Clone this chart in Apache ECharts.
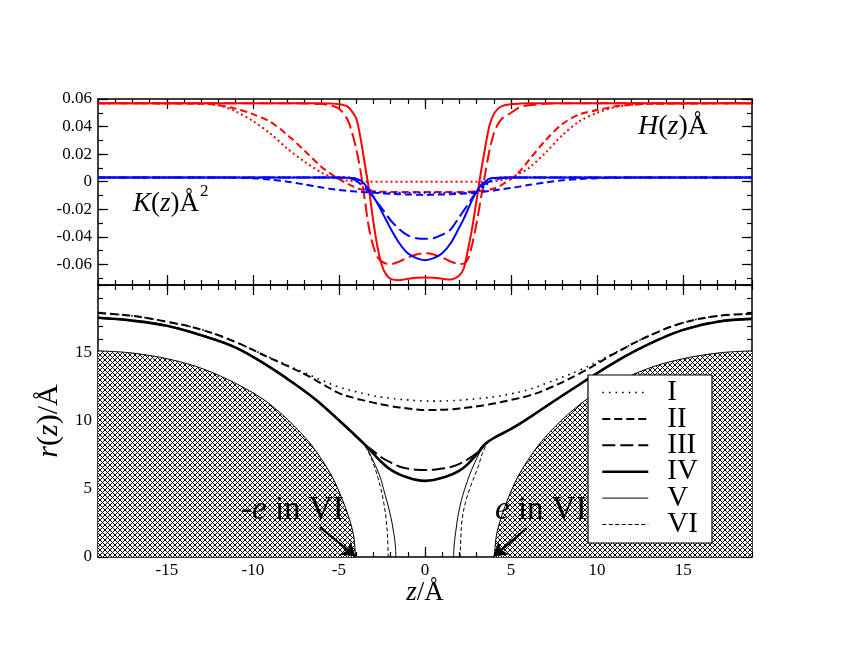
<!DOCTYPE html>
<html>
<head>
<meta charset="utf-8">
<script src="https://cdn.jsdelivr.net/npm/echarts@6/dist/echarts.min.js"></script>
<style>
html, body { margin: 0; padding: 0; background: #fff; }
#chart { width: 846px; height: 654px; }
</style>
</head>
<body>
<div id="chart"></div>
<script>
// top panel: mean curvature H (red) and gaussian curvature K (blue), shared z grid
var zH = [-19, -13, -12, -11, -10, -9, -8, -7, -6, -5.5, -5, -4.5, -4.25, -4, -3.75, -3.5, -3.25, -3, -2.75, -2.5, -2.25, -2, -1.5, -1, -0.5,
  0,
  0.5, 1, 1.5, 2, 2.25, 2.5, 2.75, 3, 3.25, 3.5, 3.75, 4, 4.25, 4.5, 5, 5.5, 6, 7, 8, 9, 10, 11, 12, 13, 19];

var hI = [0.057, 0.0568, 0.0555, 0.051, 0.044, 0.035, 0.024, 0.0145, 0.0065, 0.0038, 0.002, 0.0008, 0.0004, 0.0002, 0, 0, 0, 0, 0, 0, 0, 0, 0, 0, 0,
  0,
  0, 0, 0, 0, 0, 0, 0, 0, 0, 0, 0, 0.0003, 0.0007, 0.0014, 0.003, 0.006, 0.0095, 0.021, 0.034, 0.044, 0.050, 0.054, 0.0558, 0.0566, 0.057];
var hII = [0.057, 0.0565, 0.0555, 0.053, 0.049, 0.0435, 0.034, 0.0225, 0.0105, 0.006, 0.0018, -0.0015, -0.003, -0.0045, -0.0055, -0.006, -0.0065, -0.007, -0.0072, -0.0073, -0.0074, -0.0075, -0.0075, -0.0075, -0.0075,
  -0.0075,
  -0.0075, -0.0075, -0.0075, -0.0075, -0.0074, -0.0073, -0.0072, -0.0071, -0.0068, -0.0064, -0.0058, -0.005, -0.0038, -0.002, 0.002, 0.0075, 0.015, 0.030, 0.042, 0.049, 0.052, 0.0545, 0.0558, 0.0565, 0.057];
var hIII = [0.057, 0.057, 0.057, 0.057, 0.057, 0.057, 0.057, 0.0568, 0.0563, 0.0553, 0.053, 0.045, 0.036, 0.024, 0.008, -0.013, -0.034, -0.047, -0.055, -0.058, -0.0595, -0.0598, -0.058, -0.055, -0.0528,
  -0.052,
  -0.0528, -0.055, -0.058, -0.0598, -0.0595, -0.056, -0.045, -0.030, -0.012, 0.006, 0.023, 0.035, 0.042, 0.046, 0.050, 0.054, 0.0555, 0.0565, 0.057, 0.057, 0.057, 0.057, 0.057, 0.057, 0.057];
var hIV = [0.057, 0.057, 0.057, 0.057, 0.057, 0.057, 0.057, 0.057, 0.057, 0.0568, 0.0562, 0.0545, 0.051, 0.046, 0.032, 0.013, -0.006, -0.029, -0.048, -0.061, -0.0675, -0.0705, -0.0715, -0.0705, -0.0697,
  -0.0695,
  -0.0697, -0.0705, -0.071, -0.068, -0.063, -0.049, -0.033, -0.013, 0.007, 0.025, 0.041, 0.049, 0.053, 0.055, 0.0562, 0.0567, 0.057, 0.057, 0.057, 0.057, 0.057, 0.057, 0.057, 0.057, 0.057];

var kI = [0.003, 0.003, 0.003, 0.003, 0.003, 0.003, 0.003, 0.003, 0.003, 0.003, 0.003, 0.003, 0.0028, 0.002, 0, -0.003, -0.0055, -0.007, -0.0076, -0.0079, -0.008, -0.008, -0.008, -0.008, -0.008,
  -0.008,
  -0.008, -0.008, -0.008, -0.008, -0.008, -0.0079, -0.0076, -0.007, -0.0055, -0.003, 0, 0.002, 0.0028, 0.003, 0.003, 0.003, 0.003, 0.003, 0.003, 0.003, 0.003, 0.003, 0.003, 0.003, 0.003];
var kII = [0.003, 0.003, 0.003, 0.0028, 0.0025, 0.0015, 0, -0.002, -0.0042, -0.0052, -0.006, -0.0066, -0.0069, -0.0072, -0.0074, -0.0076, -0.0078, -0.008, -0.0082, -0.0084, -0.0086, -0.0088, -0.0091, -0.0093, -0.0095,
  -0.0096,
  -0.0095, -0.0093, -0.0091, -0.0088, -0.0086, -0.0084, -0.0082, -0.008, -0.0076, -0.0072, -0.0068, -0.0064, -0.0059, -0.0054, -0.0045, -0.0036, -0.0024, -0.0006, 0.001, 0.002, 0.0025, 0.0028, 0.003, 0.003, 0.003];
var kIII = [0.003, 0.003, 0.003, 0.003, 0.003, 0.003, 0.003, 0.003, 0.003, 0.003, 0.003, 0.0028, 0.002, 0.0008, -0.0018, -0.0045, -0.0078, -0.011, -0.0155, -0.0195, -0.0237, -0.028, -0.0345, -0.039, -0.041,
  -0.0415,
  -0.041, -0.0385, -0.0345, -0.0255, -0.021, -0.0165, -0.0115, -0.0072, -0.004, -0.0015, 0, 0.0012, 0.002, 0.0026, 0.003, 0.003, 0.003, 0.003, 0.003, 0.003, 0.003, 0.003, 0.003, 0.003, 0.003];
var kIV = [0.003, 0.003, 0.003, 0.003, 0.003, 0.003, 0.003, 0.003, 0.003, 0.003, 0.003, 0.0029, 0.0027, 0.0022, 0.001, -0.002, -0.0063, -0.011, -0.016, -0.022, -0.028, -0.034, -0.0445, -0.052, -0.0555,
  -0.057,
  -0.0555, -0.052, -0.0445, -0.033, -0.027, -0.020, -0.013, -0.0072, -0.0025, 0, 0.0022, 0.0027, 0.0029, 0.003, 0.003, 0.003, 0.003, 0.003, 0.003, 0.003, 0.003, 0.003, 0.003, 0.003, 0.003];

// bottom panel: profile r(z)
var zR = [-19, -17, -15, -13, -11, -9, -8, -7, -6, -5, -4, -3.5, -3, -2.5, -2, -1.5, -1, -0.5,
  0,
  0.5, 1, 1.5, 2, 2.5, 3, 3.5, 4, 5, 6, 7, 9, 11, 13, 15, 17, 19];
var rI = [17.94, 17.73, 17.3, 16.72, 15.8, 14.65, 14.1, 13.55, 13.0, 12.5, 12.15, 12.0, 11.85, 11.75, 11.67, 11.6, 11.55, 11.5,
  11.47,
  11.46, 11.47, 11.5, 11.53, 11.58, 11.63, 11.7, 11.78, 12.0, 12.3, 12.75, 13.75, 15.0, 16.25, 17.22, 17.72, 17.88];
var rII = [17.94, 17.73, 17.3, 16.72, 15.8, 14.62, 14.05, 13.45, 12.75, 12.05, 11.65, 11.5, 11.35, 11.22, 11.1, 11.0, 10.92, 10.85,
  10.8,
  10.81, 10.83, 10.86, 10.92, 11.0, 11.08, 11.17, 11.28, 11.55, 11.85, 12.3, 13.5, 14.95, 16.25, 17.22, 17.72, 17.88];
var rIII = [17.59, 17.38, 17.0, 16.3, 15.4, 13.95, 13.1, 12.2, 11.2, 10.05, 8.88, 8.27, 7.8, 7.3, 6.95, 6.65, 6.5, 6.42,
  6.4,
  6.42, 6.5, 6.62, 6.85, 7.2, 7.65, 8.35, 8.75, 9.42, 10.2, 11.05, 12.7, 14.3, 15.65, 16.7, 17.3, 17.51];
var rIV = [17.59, 17.38, 17.0, 16.3, 15.4, 13.95, 13.1, 12.2, 11.2, 10.05, 8.88, 8.27, 7.6, 6.95, 6.42, 6.08, 5.85, 5.67,
  5.6,
  5.66, 5.82, 6.05, 6.35, 6.85, 7.55, 8.3, 8.75, 9.42, 10.2, 11.05, 12.7, 14.3, 15.65, 16.7, 17.3, 17.51];

var zVLeft  = [-19, -17, -15, -13, -11, -9, -8, -7, -6, -5, -4, -3.5, -3, -2.6, -2.4, -2.05, -1.82, -1.72, -1.69];
var rVLeft  = [17.59, 17.38, 17.0, 16.3, 15.4, 13.95, 13.1, 12.2, 11.2, 10.05, 8.88, 8.22, 7.05, 5.85, 4.95, 3.3, 1.8, 0.8, 0];
var zVRight = [1.66, 1.69, 1.78, 1.96, 2.3, 2.9, 3.5, 4, 5, 6, 7, 9, 11, 13, 15, 17, 19];
var rVRight = [0, 0.8, 1.8, 3.3, 4.97, 6.96, 8.3, 8.75, 9.42, 10.2, 11.05, 12.7, 14.3, 15.65, 16.7, 17.3, 17.51];

var zVILeft  = [-19, -17, -15, -13, -11, -9, -8, -7, -6, -5, -4, -3.5, -3, -2.6, -2.4, -2.25, -2.17, -2.14];
var rVILeft  = [17.59, 17.38, 17.0, 16.3, 15.4, 13.95, 13.1, 12.2, 11.2, 10.05, 8.88, 8.2, 6.85, 5.2, 4.0, 2.7, 1.3, 0];
var zVIRight = [2.04, 2.08, 2.15, 2.35, 2.65, 3.05, 3.5, 4, 5, 6, 7, 9, 11, 13, 15, 17, 19];
var rVIRight = [0, 1.3, 2.7, 4.0, 5.2, 6.5, 8.1, 8.75, 9.42, 10.2, 11.05, 12.7, 14.3, 15.65, 16.7, 17.3, 17.51];

// excluded region e in VI (right one, left one is its mirror)
var eZ = [4.03, 4.17, 4.65, 5.42, 6.58, 7.94, 9.49, 11.43, 13.36, 15.3, 17.24, 19];
var eR = [0, 1.74, 3.73, 5.96, 8.2, 10.06, 11.68, 13.04, 14.04, 14.66, 15.03, 15.16];

var arrowLeft  = [[-6.1, 2.2], [-4.05, 0.05]];
var arrowRight = [[5.9, 2.1], [4.0, 0.05]];

var xMajor = [-15, -10, -5, 0, 5, 10, 15];
var yTopMajor = [-0.06, -0.04, -0.02, 0, 0.02, 0.04, 0.06];
var yTopMinor = [-0.07, -0.06, -0.05, -0.04, -0.03, -0.02, -0.01, 0, 0.01, 0.02, 0.03, 0.04, 0.05, 0.06];
var yBotLabels = [0, 5, 10, 15];
var legendNames = ['I', 'II', 'III', 'IV', 'V', 'VI'];

function pairs(xs, ys) {
  return xs.map(function (x, i) { return [x, ys[i]]; });
}

var serif = '"Liberation Serif", "DejaVu Serif", serif';
var black = '#000';
var tickLine = { color: black, width: 1.2 };
var axisLine = { color: black, width: 1.5 };

// line look of the six cases in the lower panel
var caseStyle = {
  I:   { width: 1.6, type: [1.6, 5] },
  II:  { width: 2, type: [8, 4] },
  III: { width: 2, type: [13, 5] },
  IV:  { width: 2.6, type: 'solid' },
  V:   { width: 1, type: 'solid' },
  VI:  { width: 1, type: [4, 2.5] }
};

// cross hatch tile
var hatch = document.createElement('canvas');
hatch.width = 5; hatch.height = 5;
var g = hatch.getContext('2d');
g.fillStyle = '#fff'; g.fillRect(0, 0, 5, 5);
g.strokeStyle = '#000'; g.lineWidth = 1;
g.beginPath();
g.moveTo(-1, -1); g.lineTo(6, 6);
g.moveTo(6, -1); g.lineTo(-1, 6);
g.stroke();

function xAx(grid, pos, major, labels) {
  var a = {
    type: 'value', gridIndex: grid, position: pos, min: -19, max: 19,
    axisLine: { show: major, onZero: false, lineStyle: axisLine },
    axisTick: major ? { inside: true, length: 10, customValues: xMajor, lineStyle: tickLine }
                    : { inside: true, length: 5, lineStyle: tickLine },
    axisLabel: labels ? { customValues: xMajor, fontFamily: serif, fontSize: 17, color: black, margin: 5 } : { show: false },
    splitLine: { show: false }
  };
  if (!major) a.interval = 1;
  return a;
}

function yTop(pos, major, labels) {
  return {
    type: 'value', gridIndex: 0, position: pos, min: -0.075, max: 0.06,
    axisLine: { show: major, onZero: false, lineStyle: axisLine },
    axisTick: { inside: true, length: major ? 10 : 5, customValues: major ? yTopMajor : yTopMinor, lineStyle: tickLine },
    axisLabel: labels ? {
      customValues: yTopMajor, fontFamily: serif, fontSize: 17, color: black, margin: 6,
      formatter: function (v) { return String(+(+v).toFixed(2)); }
    } : { show: false },
    splitLine: { show: false }
  };
}

function yBot(pos, labels) {
  var a = {
    type: 'value', gridIndex: 1, position: pos, min: 0, max: 20, interval: 5,
    axisLine: { onZero: false, lineStyle: axisLine },
    axisTick: { inside: true, length: 10, lineStyle: tickLine },
    minorTick: { show: true, splitNumber: 5, length: 5, lineStyle: tickLine },
    axisLabel: labels ? { customValues: yBotLabels, fontFamily: serif, fontSize: 17, color: black, margin: 6 } : { show: false },
    splitLine: { show: false }
  };
  if (labels) {
    a.name = '{i|r}({i|z})/Å';
    a.nameLocation = 'middle';
    a.nameRotate = 90;
    a.nameGap = 28;
    a.nameTextStyle = {
      fontFamily: serif, fontSize: 30, color: black,
      rich: { i: { fontFamily: serif, fontSize: 30, fontStyle: 'italic', color: black } }
    };
  }
  return a;
}

var xAxes = [
  xAx(0, 'bottom', true, false), xAx(0, 'bottom', false, false),
  xAx(0, 'top', true, false), xAx(0, 'top', false, false),
  xAx(1, 'bottom', true, true), xAx(1, 'bottom', false, false),
  xAx(1, 'top', true, false), xAx(1, 'top', false, false)
];
xAxes[4].name = '{i|z}/Å';
xAxes[4].nameLocation = 'middle';
xAxes[4].nameGap = 17;
xAxes[4].nameTextStyle = {
  fontFamily: serif, fontSize: 27, color: black,
  rich: { i: { fontFamily: serif, fontSize: 27, fontStyle: 'italic', color: black } }
};

var yAxes = [
  yTop('left', true, true), yTop('left', false, false),
  yTop('right', true, false), yTop('right', false, false),
  yBot('left', true), yBot('right', false)
];

function topLine(name, xs, ys, color, dash) {
  return {
    name: name, type: 'line', xAxisIndex: 0, yAxisIndex: 0,
    data: pairs(xs, ys), showSymbol: false, symbol: 'none', smooth: 0.3,
    lineStyle: { color: color, width: 2, type: dash },
    z: 3, silent: true
  };
}

function botLine(name, xs, ys) {
  var st = caseStyle[name];
  return {
    name: name, type: 'line', xAxisIndex: 4, yAxisIndex: 4,
    data: pairs(xs, ys), showSymbol: false, symbol: 'none', smooth: 0.4,
    lineStyle: { color: black, width: st.width, type: st.type },
    itemStyle: { color: black },
    z: 3, silent: true
  };
}

function shade(xs, ys, arrow) {
  return {
    name: 'e', type: 'line', xAxisIndex: 4, yAxisIndex: 4,
    data: pairs(xs, ys), showSymbol: false, symbol: 'none', smooth: 0.3,
    lineStyle: { color: black, width: 1 },
    areaStyle: { color: { image: hatch, repeat: 'repeat' }, opacity: 1 },
    z: 2, silent: true,
    markLine: {
      silent: true, animation: false, symbol: ['none', 'arrow'], symbolSize: 13,
      label: { show: false },
      lineStyle: { color: black, width: 2.2, type: 'solid' },
      data: [[{ coord: arrow[0] }, { coord: arrow[1] }]]
    }
  };
}

var red = '#ff0000', blue = '#0000ff';
var series = [
  shade(eZ.map(function (z) { return -z; }).reverse(), eR.slice().reverse(), arrowLeft),
  shade(eZ, eR, arrowRight),

  topLine('H I', zH, hI, red, [2, 3]),
  topLine('H II', zH, hII, red, [7, 4]),
  topLine('H III', zH, hIII, red, [13, 5]),
  topLine('H IV', zH, hIV, red, 'solid'),
  topLine('K I', zH, kI, blue, [2, 3]),
  topLine('K II', zH, kII, blue, [7, 4]),
  topLine('K III', zH, kIII, blue, [13, 5]),
  topLine('K IV', zH, kIV, blue, 'solid'),

  botLine('I', zR, rI),
  botLine('II', zR, rII),
  botLine('III', zR, rIII),
  botLine('IV', zR, rIV),
  botLine('V', zVLeft, rVLeft),
  botLine('V', zVRight, rVRight),
  botLine('VI', zVILeft, rVILeft),
  botLine('VI', zVIRight, rVIRight)
];

function richText(x, y, text, size, z) {
  return {
    type: 'text', x: x, y: y, z: z,
    style: {
      text: text, fill: black, fontFamily: serif, fontSize: size,
      verticalAlign: 'middle', align: 'left',
      rich: {
        i: { fontFamily: serif, fontSize: size, fontStyle: 'italic', fill: black },
        n: { fontFamily: serif, fontSize: size, fill: black }
      }
    }
  };
}

var chart = echarts.init(document.getElementById('chart'), null, { renderer: 'canvas' });
chart.setOption({
  animation: false,
  backgroundColor: '#fff',
  grid: [
    { left: 98, top: 99, width: 654, height: 186, outerBoundsMode: 'none' },
    { left: 98, top: 285, width: 654, height: 272, outerBoundsMode: 'none' }
  ],
  xAxis: xAxes,
  yAxis: yAxes,
  legend: {
    data: legendNames.map(function (n) {
      return { name: n, lineStyle: { color: black, width: caseStyle[n].width, type: caseStyle[n].type } };
    }),
    orient: 'vertical', left: 601, top: 378, padding: 0,
    itemWidth: 46, itemHeight: 14, itemGap: -2.6, selectedMode: false,
    itemStyle: { opacity: 0 },
    textStyle: { fontFamily: serif, fontSize: 29, color: black, padding: [0, 0, 0, 14] },
    z: 10
  },
  graphic: [
    richText(638, 127, '{i|H}{n|(}{i|z}{n|)Å}', 28, 20),
    richText(133, 204, '{i|K}{n|(}{i|z}{n|)Å}', 27, 20),
    richText(200, 192, '2', 17, 20),
    richText(241, 510, '{n|-}{i|e}{n| in VI}', 33, 4),
    richText(495, 510, '{i|e}{n| in VI}', 33, 4),
    {
      type: 'rect', z: 8,
      shape: { x: 588, y: 375, width: 124, height: 168 },
      style: { fill: '#fff', stroke: black, lineWidth: 1.2 }
    }
  ],
  series: series
});
</script>
</body>
</html>
